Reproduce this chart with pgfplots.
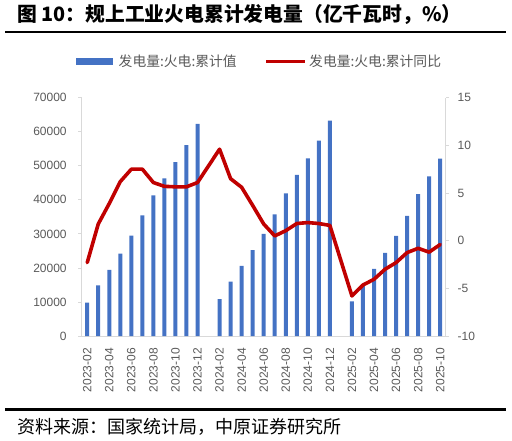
\documentclass[border=0pt]{standalone}
\usepackage{pgfplots}
\pgfplotsset{compat=1.18}
\usepackage{fontspec}
\setmainfont{Liberation Sans}
\newfontfamily\cjk{Noto Sans CJK SC}
\definecolor{barblue}{HTML}{4472C4}
\definecolor{linered}{HTML}{C00000}
\definecolor{axgray}{HTML}{D9D9D9}
\definecolor{txtgray}{HTML}{595959}
\begin{document}
\begin{tikzpicture}[x=1pt,y=1pt]
\path[use as bounding box] (0,0) rectangle (512,440);
\pgfplotsset{
  myax/.style={
    scale only axis, width=364pt, height=238.3pt,
    at={(81.7pt,104pt)}, anchor=south west,
    xmin=-0.5, xmax=32.5,
    /pgf/number format/assume math mode=true,
    /pgf/number format/1000 sep={},
    scaled y ticks=false,
    tick label style={font=\fontsize{12}{14}\selectfont, text=txtgray},
    axis line style={draw=axgray, line width=0.8pt, -},
    y tick style={draw=axgray, line width=0.8pt},
    major tick length=3.5pt,
    tick align=outside,
  }
}
\begin{axis}[myax,
  axis x line*=bottom, axis y line*=left,
  ymin=0, ymax=70000, ytick={0,10000,...,70000},
  yticklabel style={xshift=-8pt},
  xtick={0,2,...,32},
  xticklabels={2023-02,2023-04,2023-06,2023-08,2023-10,2023-12,2024-02,2024-04,2024-06,2024-08,2024-10,2024-12,2025-02,2025-04,2025-06,2025-08,2025-10},
  x tick label style={rotate=90, anchor=east, xshift=-5pt},
  x tick style={draw=none},
]
\addplot[ybar, bar width=4pt, fill=barblue, draw=none] coordinates {
(0,9800) (1,14900) (2,19400) (3,24200) (4,29500) (5,35400) (6,41300) (7,46300) (8,51100) (9,56100) (10,62300)
(12,10800) (13,16000) (14,20600) (15,25200) (16,30000) (17,35700) (18,41900) (19,47300) (20,52200) (21,57400) (22,63300)
(24,10200) (25,14900) (26,19700) (27,24400) (28,29400) (29,35300) (30,41700) (31,46900) (32,52100)
};
\end{axis}
\begin{axis}[myax,
  axis x line=none, axis y line*=right,
  ymin=-10, ymax=15, ytick={-10,-5,...,15},
  yticklabel style={xshift=5pt},
]
\addplot[linered, line width=3.6pt, line join=round, line cap=round] coordinates {
(0,-2.3) (1,1.75) (2,3.9) (3,6.2) (4,7.5) (5,7.5) (6,6.1) (7,5.7) (8,5.65) (9,5.65) (10,6.1)
(12,9.6) (13,6.5) (14,5.6) (15,3.7) (16,1.75) (17,0.5) (18,1.05) (19,1.8) (20,1.9) (21,1.8) (22,1.6)
(24,-5.8) (25,-4.65) (26,-4.05) (27,-3.0) (28,-2.3) (29,-1.25) (30,-0.8) (31,-1.2) (32,-0.4)
};
\end{axis}
% title and rules
\node[anchor=west, inner sep=0pt] at (17,425.5) {\cjk\bfseries\fontsize{19.8}{22}\selectfont 图 10：规上工业火电累计发电量（亿千瓦时，\%）};
\draw[line width=2.5pt] (5,408) -- (506,408);
\draw[line width=3pt] (5,31) -- (506,31);
\node[anchor=west, inner sep=0pt] at (17,13) {\cjk\fontsize{18}{20}\selectfont 资料来源：国家统计局，中原证券研究所};
% legend
\fill[barblue] (76,374.7) rectangle (113,381.7);
\node[anchor=west, inner sep=0pt, text=txtgray] at (118.5,378.3) {\cjk\fontsize{13.8}{15}\selectfont 发电量:火电:累计值};
\draw[linered, line width=3.6pt] (266,378.3) -- (305,378.3);
\node[anchor=west, inner sep=0pt, text=txtgray] at (309,378.3) {\cjk\fontsize{13.8}{15}\selectfont 发电量:火电:累计同比};
\end{tikzpicture}
\end{document}
